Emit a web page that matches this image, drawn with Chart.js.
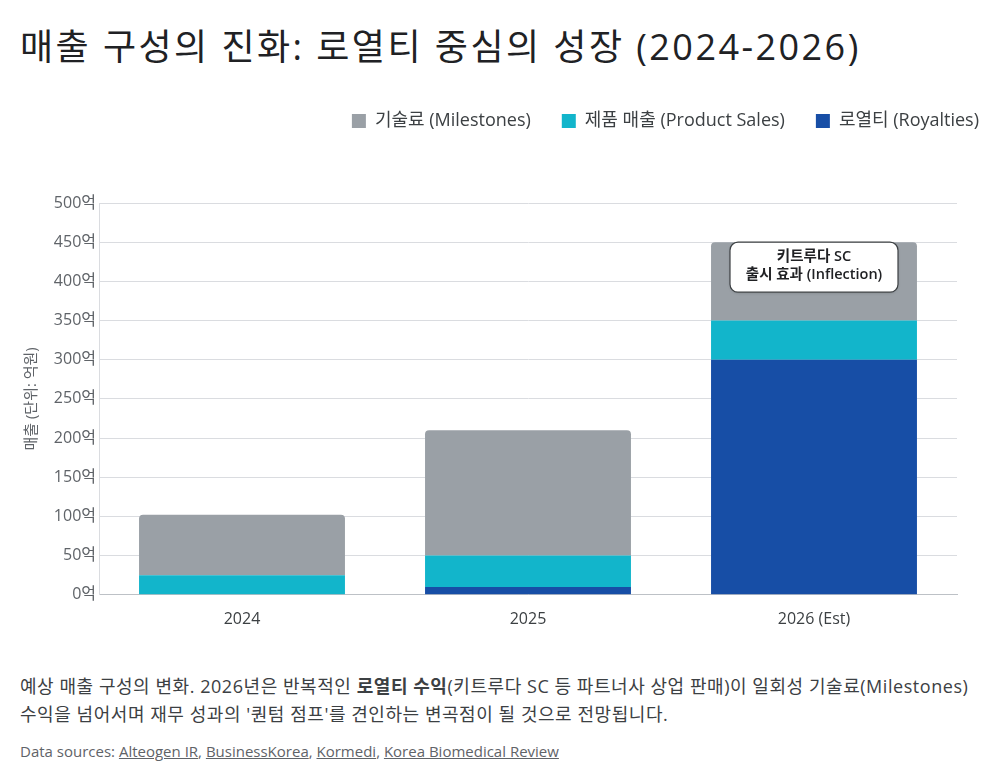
<!DOCTYPE html>
<html>
<head>
<meta charset="utf-8">
<script src="https://cdn.jsdelivr.net/npm/chart.js@4.4.1/dist/chart.umd.min.js"></script>
<style>
  body { margin: 0; background: #fff; font-family: "Open Sans", "Noto Sans CJK KR", sans-serif; color: #202124; }
  #wrap { position: relative; width: 1000px; height: 783px; overflow: hidden; }
  h1 { position: absolute; left: 20px; top: 18px; margin: 0; font-size: 36px; font-weight: 400; letter-spacing: 2.45px; white-space: nowrap; }
  #box { position: absolute; left: 0; top: 81px; width: 1010px; height: 555px; }
  .caption { position: absolute; left: 20px; top: 672px; width: 980px; font-size: 18px; letter-spacing: 0.55px; line-height: 28px; color: #3c4043; white-space: nowrap; }
  .sources { position: absolute; left: 20px; top: 741px; font-size: 15px; color: #5f6368; }
  .sources a { color: #5f6368; text-decoration: underline; }
</style>
</head>
<body>
<div id="wrap">
  <h1>매출 구성의 진화: 로열티 중심의 성장 (2024-2026)</h1>
  <div id="box"><canvas id="grafica"></canvas></div>
  <div class="caption">예상 매출 구성의 변화. 2026년은 반복적인 <b>로열티 수익</b>(키트루다 SC 등 파트너사 상업 판매)이 일회성 기술료(Milestones)<br>수익을 넘어서며 재무 성과의 '퀀텀 점프'를 견인하는 변곡점이 될 것으로 전망됩니다.</div>
  <div class="sources">Data sources: <a>Alteogen IR</a>, <a>BusinessKorea</a>, <a>Kormedi</a>, <a>Korea Biomedical Review</a></div>
</div>
<script>
// datos (억원)
var anios = ["2024", "2025", "2026 (Est)"];
var regalias = [0, 10, 300];
var ventas = [25, 40, 50];
var hitos = [77, 160, 100];
var nota = ["키트루다 SC", "출시 효과 (Inflection)"];
var notaIndice = 2;

var fuente = '"Open Sans", "Noto Sans CJK KR", sans-serif';

// espacio extra bajo la leyenda
var espacioLeyenda = {
    id: 'espacioLeyenda',
    beforeInit: function(chart) {
        var fitOriginal = chart.legend.fit;
        chart.legend.fit = function() {
            fitOriginal.bind(chart.legend)();
            this.height += 63;
        };
    }
};

// caja de anotacion sobre la barra 2026
var cajaNota = {
    id: 'cajaNota',
    afterDatasetsDraw: function(chart) {
        var ctx = chart.ctx;
        var x = chart.scales.x.getPixelForValue(notaIndice);
        var total = regalias[notaIndice] + ventas[notaIndice] + hitos[notaIndice];
        var y = chart.scales.y.getPixelForValue(total);
        var w = 168, h = 50;
        ctx.save();
        ctx.shadowColor = 'rgba(0,0,0,0.15)';
        ctx.shadowBlur = 3;
        ctx.shadowOffsetY = 1;
        ctx.beginPath();
        ctx.roundRect(x - w / 2, y, w, h, 8);
        ctx.fillStyle = '#ffffff';
        ctx.fill();
        ctx.shadowColor = 'transparent';
        ctx.lineWidth = 1.2;
        ctx.strokeStyle = '#3c4043';
        ctx.stroke();
        ctx.fillStyle = '#202124';
        ctx.font = '600 14.5px ' + fuente;
        ctx.textAlign = 'center';
        ctx.textBaseline = 'middle';
        ctx.fillText(nota[0], x, y + 15);
        ctx.fillText(nota[1], x, y + 33);
        ctx.restore();
    }
};

var dataset = [
    {
        label: '기술료 (Milestones)',
        data: hitos,
        backgroundColor: '#9aa0a6',
        borderRadius: { topLeft: 4, topRight: 4 },
        borderSkipped: false
    }, {
        label: '제품 매출 (Product Sales)',
        data: ventas,
        backgroundColor: '#12b5cb'
    }, {
        label: '로열티 (Royalties)',
        data: regalias,
        backgroundColor: '#174ea6'
    }
];

// orden de apilado: regalias abajo, luego ventas, luego hitos
var datasetOrdenado = [dataset[2], dataset[1], dataset[0]];

var ctx = document.getElementById('grafica').getContext('2d');
new Chart(ctx, {
    type: 'bar',
    data: { labels: anios, datasets: datasetOrdenado },
    plugins: [espacioLeyenda, cajaNota],
    options: {
        responsive: true,
        maintainAspectRatio: false,
        animation: false,
        layout: { padding: { left: 20, right: 0, top: 0, bottom: 0 } },
        datasets: { bar: { barPercentage: 0.72, categoryPercentage: 1 } },
        plugins: {
            legend: {
                position: 'top',
                align: 'end',
                reverse: true,
                labels: {
                    boxWidth: 14,
                    boxHeight: 14,
                    padding: 31,
                    color: '#3c4043',
                    font: { family: fuente, size: 18 }
                }
            },
            tooltip: { enabled: false }
        },
        scales: {
            x: {
                stacked: true,
                grid: { display: false },
                border: { display: true, color: '#bdc1c6' },
                ticks: { color: '#3c4043', font: { family: fuente, size: 16 }, padding: 7 }
            },
            y: {
                stacked: true,
                min: 0,
                max: 500,
                afterFit: function(s) { s.width = 79; },
                grid: { color: '#dadce0', drawTicks: false },
                border: { display: true, color: '#dadce0' },
                ticks: {
                    stepSize: 50,
                    padding: 3,
                    color: '#5f6368',
                    font: { family: fuente, size: 16 },
                    callback: function(v) { return v + '억'; }
                },
                title: {
                    display: true,
                    text: '매출 (단위: 억원)',
                    color: '#5f6368',
                    font: { family: fuente, size: 15 },
                    padding: { top: 3, bottom: 0 }
                }
            },
            y2: {
                position: 'right',
                display: true,
                grid: { display: false },
                border: { display: false },
                ticks: { display: false },
                afterFit: function(s) { s.width = 53; }
            }
        }
    }
});
</script>
</body>
</html>
